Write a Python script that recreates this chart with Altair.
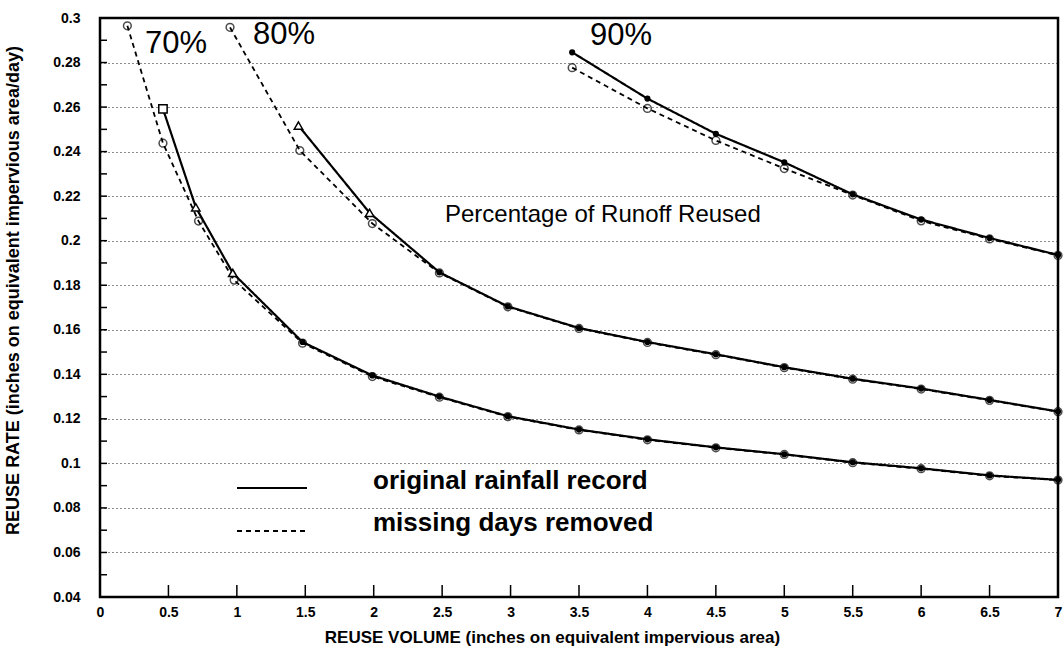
import altair as alt
import pandas as pd

# ---------------- data ----------------
x70_orig = [0.46, 0.70, 0.97, 1.48, 1.99, 2.48, 2.98, 3.5, 4.0, 4.5, 5.0, 5.5, 6.0, 6.5, 7.0]
y70_orig = [0.2592, 0.2150, 0.1855, 0.1545, 0.1395, 0.1300, 0.1212, 0.1152, 0.1108, 0.1072, 0.1041, 0.1005, 0.0978, 0.0946, 0.0926]
x70_miss = [0.20, 0.46, 0.72, 0.98, 1.48, 1.99, 2.48, 2.98, 3.5, 4.0, 4.5, 5.0, 5.5, 6.0, 6.5, 7.0]
y70_miss = [0.2965, 0.2438, 0.2088, 0.1823, 0.1540, 0.1390, 0.1297, 0.1210, 0.1150, 0.1106, 0.1070, 0.1040, 0.1003, 0.0976, 0.0944, 0.0925]

x80_orig = [1.45, 1.97, 2.48, 2.98, 3.5, 4.0, 4.5, 5.0, 5.5, 6.0, 6.5, 7.0]
y80_orig = [0.2517, 0.2125, 0.1858, 0.1705, 0.1608, 0.1545, 0.1490, 0.1432, 0.1380, 0.1336, 0.1285, 0.1233]
x80_miss = [0.95, 1.46, 1.99, 2.48, 2.98, 3.5, 4.0, 4.5, 5.0, 5.5, 6.0, 6.5, 7.0]
y80_miss = [0.2958, 0.2405, 0.2077, 0.1855, 0.1703, 0.1606, 0.1543, 0.1488, 0.1430, 0.1378, 0.1334, 0.1283, 0.1232]

x90_orig = [3.45, 4.0, 4.5, 5.0, 5.5, 6.0, 6.5, 7.0]
y90_orig = [0.2846, 0.2638, 0.2480, 0.2352, 0.2208, 0.2095, 0.2012, 0.1936]
x90_miss = [3.45, 4.0, 4.5, 5.0, 5.5, 6.0, 6.5, 7.0]
y90_miss = [0.2777, 0.2594, 0.2450, 0.2324, 0.2205, 0.2089, 0.2008, 0.1934]

# marker shapes on the "original rainfall record" points
shape70 = ["square", "triangle-up", "triangle-up"] + ["circle"] * 12
shape80 = ["triangle-up", "triangle-up"] + ["circle"] * 10
shape90 = ["circle"] * 8

records = ["original rainfall record", "missing days removed"]
curve_labels = ["70%", "80%", "90%"]
title_text = ["Percentage of Runoff Reused"]

x_ticks = [0, 0.5, 1, 1.5, 2, 2.5, 3, 3.5, 4, 4.5, 5, 5.5, 6, 6.5, 7]
y_ticks = [0.04, 0.06, 0.08, 0.1, 0.12, 0.14, 0.16, 0.18, 0.2, 0.22, 0.24, 0.26, 0.28, 0.3]
x_minor = [0.5, 1, 1.5, 2, 2.5, 3, 3.5, 4, 4.5, 5, 5.5, 6, 6.5]
y_minor = [0.05, 0.06, 0.07, 0.08, 0.09, 0.1, 0.11, 0.12, 0.13, 0.14, 0.15, 0.16, 0.17,
           0.18, 0.19, 0.2, 0.21, 0.22, 0.23, 0.24, 0.25, 0.26, 0.27, 0.28, 0.29]

# ---------------- tables ----------------
rows = []
for curve, xs, ys, rec in [
    ("70%", x70_orig, y70_orig, records[0]), ("70%", x70_miss, y70_miss, records[1]),
    ("80%", x80_orig, y80_orig, records[0]), ("80%", x80_miss, y80_miss, records[1]),
    ("90%", x90_orig, y90_orig, records[0]), ("90%", x90_miss, y90_miss, records[1]),
]:
    for a, b in zip(xs, ys):
        rows.append({"x": a, "y": b, "curve": curve, "record": rec, "key": curve + rec})
lines_df = pd.DataFrame(rows)

mk = []
for xs, ys, shp in [(x70_orig, y70_orig, shape70), (x80_orig, y80_orig, shape80), (x90_orig, y90_orig, shape90)]:
    for a, b, s in zip(xs, ys, shp):
        mk.append({"x": a, "y": b, "shape": s,
                   "size": 22 if s == "circle" else 70,
                   "fill": "black" if s == "circle" else "white"})
mk_df = pd.DataFrame(mk)
miss_df = lines_df[lines_df["record"] == records[1]]

FONT = "Liberation Sans"
W, H = 958, 579

xscale = alt.Scale(domain=[0, 7], nice=False, zero=False)
yscale = alt.Scale(domain=[0.04, 0.3], nice=False, zero=False)

X = alt.X("x:Q", scale=xscale, axis=alt.Axis(
    values=x_ticks, format="~g", ticks=False, domain=False, grid=False,
    labelFont=FONT, labelFontWeight="bold", labelFontSize=14, labelPadding=8,
    labelColor="black", labelFlush=False,
    title="REUSE VOLUME (inches on equivalent impervious area)",
    titleFont=FONT, titleFontSize=17, titleFontWeight="bold", titleColor="black",
    titleX=452, titleY=40, titleBaseline="middle"))
Y = alt.Y("y:Q", scale=yscale, axis=alt.Axis(
    values=y_ticks, format="~g", ticks=False, domain=False, grid=True,
    gridColor="black", gridDash=[1, 3], gridWidth=1, gridOpacity=0.9,
    labelFont=FONT, labelFontWeight="bold", labelFontSize=14, labelPadding=20,
    labelColor="black", labelFlush=False,
    title="REUSE RATE (inches on equivalent impervious area/day)",
    titleFont=FONT, titleFontSize=18, titleFontWeight="bold", titleColor="black",
    titleX=-87, titleY=272, titleBaseline="middle"))

lines = alt.Chart(lines_df).mark_line(color="black").encode(
    x=X, y=Y, detail="key:N",
    strokeDash=alt.StrokeDash("record:N", scale=alt.Scale(domain=records, range=[[1, 0], [5, 4]]), legend=None),
    strokeWidth=alt.StrokeWidth("record:N", scale=alt.Scale(domain=records, range=[2.2, 1.8]), legend=None),
)

circles = alt.Chart(miss_df).mark_point(shape="circle", filled=False, color="black",
                                        size=60, strokeWidth=1.5).encode(x=X, y=Y)

markers = alt.Chart(mk_df).mark_point(filled=True, stroke="black", strokeWidth=1.5, opacity=1).encode(
    x=X, y=Y,
    shape=alt.Shape("shape:N", scale=None),
    size=alt.Size("size:Q", scale=None),
    fill=alt.Fill("fill:N", scale=None),
)

xt = alt.Chart(pd.DataFrame({"x": x_minor})).mark_rule(color="black", strokeWidth=1.5).encode(
    x=X, y=alt.value(H), y2=alt.value(H - 12))
yt = alt.Chart(pd.DataFrame({"y": y_minor})).mark_rule(color="black", strokeWidth=1.5).encode(
    y=Y, x=alt.value(0), x2=alt.value(7))

def label(txt, px, py, size, weight="normal"):
    return alt.Chart(pd.DataFrame({"t": [txt]})).mark_text(
        x=px, y=py, align="left", baseline="middle", font=FONT, fontSize=size,
        fontWeight=weight, color="black"
    ).encode(text="t:N")

ann = [
    label(curve_labels[0], 45, 26, 31),
    label(curve_labels[1], 153, 17, 31),
    label(curve_labels[2], 490, 18, 31),
    label(title_text[0], 345, 197, 24),
    label(records[0], 273, 463, 26, "bold"),
    label(records[1], 273, 505, 26, "bold"),
]

leg_solid = alt.Chart(pd.DataFrame({"r": [records[0]]})).mark_rule(color="black", strokeWidth=2).encode(
    x=alt.value(137), x2=alt.value(207), y=alt.value(470))
leg_dash = alt.Chart(pd.DataFrame({"r": [records[1]]})).mark_rule(color="black", strokeWidth=2, strokeDash=[5, 4]).encode(
    x=alt.value(137), x2=alt.value(207), y=alt.value(513))

chart = alt.layer(lines, circles, markers, xt, yt, leg_solid, leg_dash, *ann).properties(
    width=W, height=H,
    padding={"left": 100, "top": 18, "right": 5, "bottom": 54},
    autosize=alt.AutoSizeParams(type="none"),
    background="white",
).configure_view(stroke="black", strokeWidth=2.5)

chart.save("out.html", embed_options={"renderer": "svg", "actions": False})
